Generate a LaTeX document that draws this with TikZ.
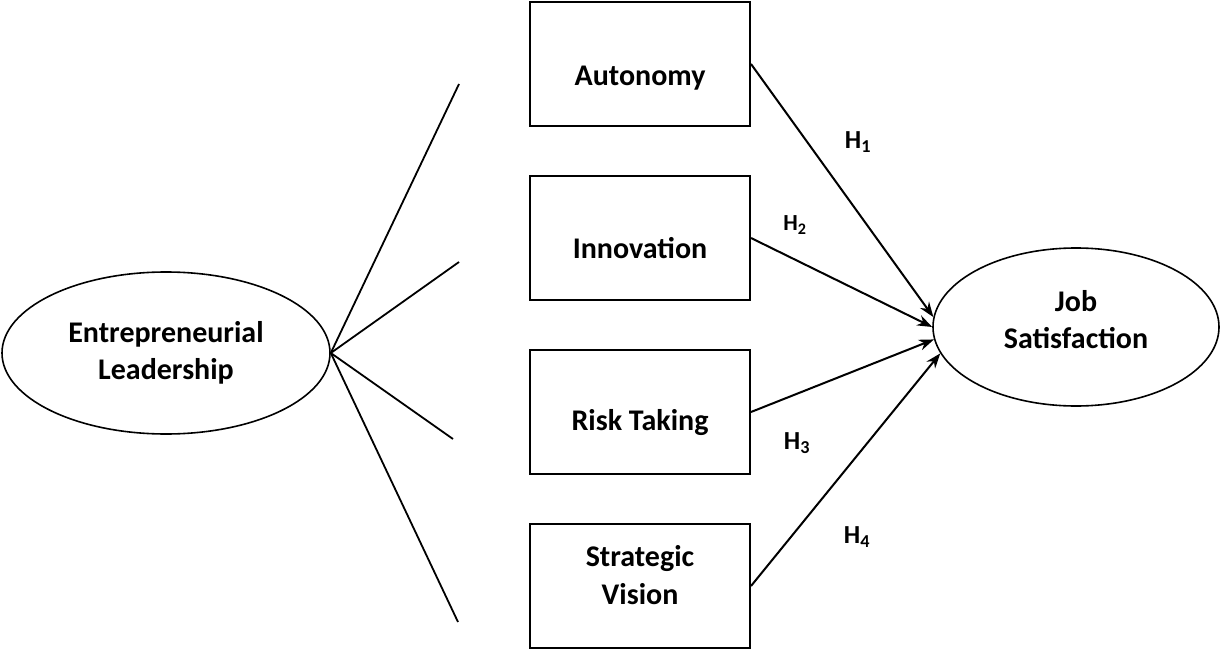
\documentclass[tikz,border=0pt]{standalone}
\usepackage{fontspec}
\setmainfont{Carlito}
\usetikzlibrary{
  arrows.meta,
  positioning,
  shapes.geometric
}

\begin{document}
\begin{tikzpicture}[
      x=1pt, y=1pt,
      node distance=48pt,
      fator/.style={draw, ellipse, line width=1.6pt, inner sep=0pt, align=center, font=\fontsize{30}{37}\selectfont\bfseries},
      dimensao/.style={draw, line width=2pt, minimum width=220pt, minimum height=124pt, align=center, font=\fontsize{30}{38}\selectfont\bfseries},
      hip/.style={font=\fontsize{26}{30}\selectfont\bfseries},
      linha/.style={line width=1.8pt},
      seta/.style={-{Stealth[length=15pt,width=11pt]}, line width=2pt}
  ]
    \useasboundingbox (0,0) rectangle (1220,-650);

    \node [fator, minimum width=328pt, minimum height=162pt] (lider) at (166,-353) {Entrepreneurial\\Leadership};
    \node [fator, minimum width=286pt, minimum height=158pt, text depth=16pt] (satis) at (1076,-327) {Job\\Satisfaction};

    \node [dimensao, text height=50pt, text depth=7pt] (auton) at (640,-64) {Autonomy};
    \node [dimensao, text height=42pt, text depth=1pt, below=of auton] (inov) {Innovation};
    \node [dimensao, text height=43pt, text depth=7pt, below=of inov] (risco) {Risk Taking};
    \node [dimensao, text depth=22pt, below=of risco] (visao) {Strategic\\Vision};

    % Pontas soltas
    \coordinate (f1) at (459,-84);
    \coordinate (f2) at (459,-262);
    \coordinate (f3) at (453,-439);
    \coordinate (f4) at (458,-622);
    \foreach \i in {1,...,4}
      \draw [linha] (lider.east) -- (f\i);

    % Hipoteses
    \draw [seta] (auton.east) -- (satis.176);
    \draw [seta] (inov.east) -- (satis.west);
    \draw [seta] (risco.east) -- (satis.185);
    \draw [seta] (visao.east) -- (satis.191);

    \node [hip] (h1) at (858,-142) {H\textsubscript{1}};
    \node [hip, font=\fontsize{23}{27}\selectfont\bfseries] (h2) at (795,-225) {H\textsubscript{2}};
    \node [hip] (h3) at (797,-443) {H\textsubscript{3}};
    \node [hip] (h4) at (857,-537) {H\textsubscript{4}};
  \end{tikzpicture}
\end{document}
